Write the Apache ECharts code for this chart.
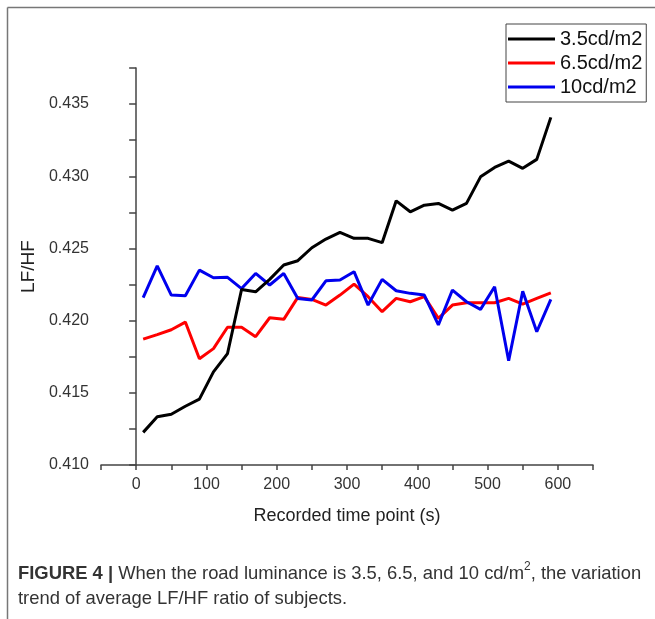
<!DOCTYPE html>
<html>
<head>
<meta charset="utf-8">
<script src="https://cdn.jsdelivr.net/npm/echarts@6/dist/echarts.min.js"></script>
<style>
  html, body { margin: 0; padding: 0; background: #fff; }
  #main { width: 655px; height: 619px; }
</style>
</head>
<body>
<div id="main"></div>
<script>
// recorded time points (s)
let times = [10, 30, 50, 70, 90, 110, 130, 150, 170, 190, 210, 230, 250, 270, 290,
    310, 330, 350, 370, 390, 410, 430, 450, 470, 490, 510, 530, 550, 570, 590]

let names = ['3.5cd/m2', '6.5cd/m2', '10cd/m2']

let lum35 = [0.41226, 0.41334, 0.41352, 0.41407, 0.41456, 0.41645, 0.41772, 0.42216, 0.42200, 0.42286,
    0.42385, 0.42415, 0.42505, 0.42565, 0.42611, 0.42570, 0.42570, 0.42540, 0.42830, 0.42754,
    0.42800, 0.42812, 0.42766, 0.42812, 0.42996, 0.43061, 0.43105, 0.43055, 0.43117, 0.43408]

let lum65 = [0.41872, 0.41903, 0.41937, 0.41990, 0.41736, 0.41806, 0.41954, 0.41954, 0.41889, 0.42020,
    0.42009, 0.42161, 0.42147, 0.42108, 0.42177, 0.42253, 0.42166, 0.42062, 0.42154, 0.42131,
    0.42166, 0.42016, 0.42108, 0.42124, 0.42124, 0.42124, 0.42154, 0.42115, 0.42154, 0.42193]

let lum10 = [0.42160, 0.42380, 0.42177, 0.42172, 0.42350, 0.42297, 0.42300, 0.42222, 0.42327, 0.42247,
    0.42327, 0.42154, 0.42143, 0.42276, 0.42281, 0.42339, 0.42108, 0.42286, 0.42207, 0.42189,
    0.42177, 0.41970, 0.42212, 0.42131, 0.42078, 0.42235, 0.41722, 0.42203, 0.41923, 0.42147]

function pairs(ys) {
    return times.map(function (t, i) { return [t, ys[i]] })
}

const font = '"Liberation Sans", Arial, sans-serif'
const chart = echarts.init(document.getElementById('main'))

var option = {
    animation: false,
    textStyle: { fontFamily: font },
    grid: {
        left: 101,
        right: 62,
        top: 68,
        bottom: 154
    },
    legend: {
        data: names,
        orient: 'vertical',
        left: 506,
        top: 24,
        padding: [5, 4, 5, 2],
        icon: 'rect',
        itemWidth: 47,
        itemHeight: 3,
        itemGap: 4,
        borderColor: '#444',
        borderWidth: 1,
        textStyle: { fontSize: 20, color: '#111', lineHeight: 20, fontFamily: font }
    },
    xAxis: {
        type: 'value',
        min: -50,
        max: 650,
        interval: 50,
        name: 'Recorded time point (s)',
        nameLocation: 'middle',
        nameGap: 42,
        nameTextStyle: { fontSize: 18, color: '#222' },
        splitLine: { show: false },
        axisLine: { lineStyle: { color: '#444', width: 1.5 } },
        axisTick: { length: 5, lineStyle: { color: '#444', width: 1.5 } },
        axisLabel: {
            margin: 12,
            fontSize: 16,
            color: '#333',
            formatter: function (v) {
                return (v >= 0 && v % 100 === 0) ? String(v) : ''
            }
        }
    },
    yAxis: {
        type: 'value',
        min: 0.410,
        max: 0.4375,
        interval: 0.0025,
        name: 'LF/HF',
        nameLocation: 'middle',
        nameGap: 60,
        nameTextStyle: { fontSize: 19, color: '#222' },
        splitLine: { show: false },
        axisLine: { show: true, lineStyle: { color: '#444', width: 1.5 } },
        axisTick: { show: true, length: 7, lineStyle: { color: '#444', width: 1.5 } },
        axisLabel: {
            margin: 12,
            fontSize: 16,
            color: '#333',
            formatter: function (v) {
                let k = Math.round(v * 10000)
                return (k % 50 === 0 && k < 4375) ? v.toFixed(3) : ''
            }
        }
    },
    series: [{
        name: names[0],
        type: 'line',
        symbol: 'none',
        data: pairs(lum35),
        lineStyle: { color: '#000', width: 3 },
        itemStyle: { color: '#000' },
        z: 3
    }, {
        name: names[1],
        type: 'line',
        symbol: 'none',
        data: pairs(lum65),
        lineStyle: { color: '#f00', width: 3 },
        itemStyle: { color: '#f00' },
        z: 2
    }, {
        name: names[2],
        type: 'line',
        symbol: 'none',
        data: pairs(lum10),
        lineStyle: { color: '#0000ee', width: 3 },
        itemStyle: { color: '#0000ee' },
        z: 2
    }],
    graphic: [{
        type: 'line',
        shape: { x1: 7.5, y1: 7.5, x2: 655, y2: 7.5 },
        style: { stroke: '#777', lineWidth: 1.5 }
    }, {
        type: 'line',
        shape: { x1: 7.5, y1: 7.5, x2: 7.5, y2: 619 },
        style: { stroke: '#777', lineWidth: 1.5 }
    }, {
        type: 'text',
        left: 18,
        top: 561,
        style: {
            text: '{b|FIGURE 4 |} When the road luminance is 3.5, 6.5, and 10 cd/m{s|2}, the variation\ntrend of average LF/HF ratio of subjects.',
            fontFamily: font,
            fontSize: 18.4,
            lineHeight: 25,
            fill: '#333',
            rich: {
                b: { fontWeight: 'bold', fontSize: 18.4, fill: '#333', fontFamily: font },
                s: { fontSize: 12, verticalAlign: 'top', padding: [0, 0, 8, 0], fill: '#333', fontFamily: font }
            }
        }
    }]
};

chart.setOption(option);
</script>
</body>
</html>
